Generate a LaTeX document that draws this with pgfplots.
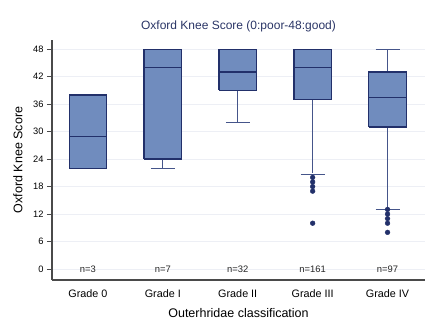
\documentclass[border=0pt]{standalone}
\usepackage{fontspec}
\setmainfont{Liberation Sans}
\usepackage{pgfplots}
\pgfplotsset{compat=1.18}
\definecolor{boxfill}{HTML}{708CBE}
\definecolor{boxedge}{HTML}{22306A}
\definecolor{wkc}{HTML}{45558A}
\definecolor{titlecol}{HTML}{2A3566}
\definecolor{gridc}{HTML}{EDEFF5}
\definecolor{axc}{HTML}{4A4A4A}
\pgfplotsset{
 bx/.style={fill=boxfill, draw=boxedge, line width=1.3pt, line join=miter, mark=none},
 ln/.style={draw=boxedge, line width=1.3pt, mark=none},
 cp/.style={draw=wkc, line width=1.3pt, mark=none},
 wk/.style={draw=wkc, line width=1pt, mark=none},
 out/.style={only marks, mark=*, mark size=2.4pt, mark options={fill=boxedge, draw=boxedge}},
}
\begin{document}
\begin{tikzpicture}
\begin{axis}[
 scale only axis, width=373pt, height=240pt,
 xmin=-0.48, xmax=4.5, ymin=-2.4, ymax=50,
 axis x line*=bottom, axis y line*=left,
 axis line style={line width=1.6pt, draw=axc, -},
 xtick={0,...,4}, xticklabels={Grade 0,Grade I,Grade II,Grade III,Grade IV},
 x tick style={draw=none},
 x tick label style={font=\fontsize{10.8}{12}\selectfont, yshift=-1pt},
 ytick={0,6,...,48},
 y tick style={draw=axc, line width=1pt},
 y tick label style={font=\fontsize{9.3}{11}\selectfont},
 /pgf/number format/assume math mode=true,
 tick align=outside, major tick length=5pt,
 ymajorgrids, grid style={gridc, line width=0.8pt},
 title={Oxford Knee Score (0:poor-48:good)},
 title style={font=\fontsize{12}{14}\selectfont, text=titlecol, at={(axis description cs:0.5,1.033)}, anchor=center},
 xlabel={Outerhridae classification},
 xlabel style={font=\fontsize{12.5}{15}\selectfont, at={(axis description cs:0.5,-0.1375)}, anchor=center},
 ylabel={Oxford Knee Score},
 ylabel style={font=\fontsize{12.5}{15}\selectfont, at={(axis description cs:-0.0912,0.5)}, anchor=center},
 clip=false,
]
% Grade 0
\addplot[bx] coordinates {(-0.25,22) (0.25,22) (0.25,38) (-0.25,38) (-0.25,22)};
\addplot[ln] coordinates {(-0.25,29) (0.25,29)};
% Grade I
\addplot[wk] coordinates {(1,24) (1,22)};
\addplot[cp] coordinates {(0.84,22) (1.16,22)};
\addplot[bx] coordinates {(0.75,24) (1.25,24) (1.25,48) (0.75,48) (0.75,24)};
\addplot[ln] coordinates {(0.75,44) (1.25,44)};
% Grade II
\addplot[wk] coordinates {(2,39) (2,32)};
\addplot[cp] coordinates {(1.84,32) (2.16,32)};
\addplot[bx] coordinates {(1.75,39) (2.25,39) (2.25,48) (1.75,48) (1.75,39)};
\addplot[ln] coordinates {(1.75,43) (2.25,43)};
% Grade III
\addplot[wk] coordinates {(3,37) (3,21)};
\addplot[cp] coordinates {(2.84,20.6) (3.16,20.6)};
\addplot[bx] coordinates {(2.75,37) (3.25,37) (3.25,48) (2.75,48) (2.75,37)};
\addplot[ln] coordinates {(2.75,44) (3.25,44)};
\addplot[out] coordinates {(3,20) (3,19) (3,18) (3,17) (3,10)};
% Grade IV
\addplot[wk] coordinates {(4,31) (4,13)};
\addplot[wk] coordinates {(4,43) (4,48)};
\addplot[cp] coordinates {(3.84,13) (4.16,13)};
\addplot[cp] coordinates {(3.84,48) (4.16,48)};
\addplot[bx] coordinates {(3.75,31) (4.25,31) (4.25,43) (3.75,43) (3.75,31)};
\addplot[ln] coordinates {(3.75,37.5) (4.25,37.5)};
\addplot[out] coordinates {(4,13) (4,12) (4,11) (4,10) (4,8)};
\node[font=\fontsize{9.4}{11}\selectfont, text=black!85] at (axis cs:0,0) {n=3};
\node[font=\fontsize{9.4}{11}\selectfont, text=black!85] at (axis cs:1,0) {n=7};
\node[font=\fontsize{9.4}{11}\selectfont, text=black!85] at (axis cs:2,0) {n=32};
\node[font=\fontsize{9.4}{11}\selectfont, text=black!85] at (axis cs:3,0) {n=161};
\node[font=\fontsize{9.4}{11}\selectfont, text=black!85] at (axis cs:4,0) {n=97};
\coordinate (SW) at (rel axis cs:0,0);
\end{axis}
\pgfresetboundingbox
\path[use as bounding box] ([shift={(-52pt,-43pt)}]SW) rectangle ([shift={(395pt,280pt)}]SW);
\end{tikzpicture}
\end{document}
